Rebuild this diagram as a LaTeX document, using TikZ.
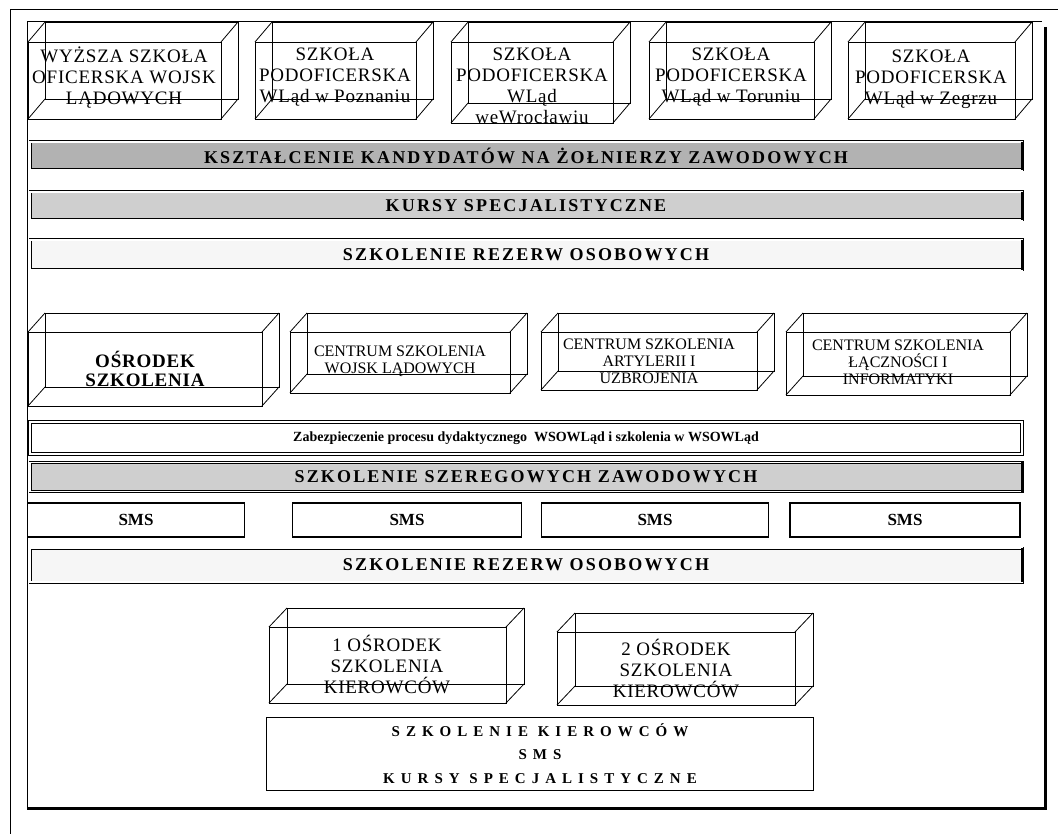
\documentclass[tikz,border=0pt]{standalone}
\usepackage{fontspec}
\setmainfont{Liberation Serif}
\begin{document}
\begin{tikzpicture}[x=1pt,y=-1pt,
  boxline/.style={draw=black,line width=0.8pt},
  boxtext/.style={align=center,inner sep=0pt,font=\fontsize{19}{21}\selectfont\addfontfeature{LetterSpace=4}},
  midtext/.style={align=center,inner sep=0pt,font=\fontsize{16}{17}\selectfont},
  band/.style={draw=black,line width=0.9pt,double=white,double distance=1.2pt,minimum width=992pt,inner sep=0pt,
     font=\bfseries\fontsize{18}{20}\selectfont\addfontfeature{LetterSpace=12}},
  smsbox/.style={draw=black,line width=1.1pt,minimum width=217pt,minimum height=34pt,inner sep=0pt,
     font=\bfseries\fontsize{17}{18}\selectfont},
  frameline/.style={draw=black,line width=1pt},
  thickline/.style={draw=black,line width=3pt}]
\useasboundingbox (0,0) rectangle (1058,834);
\fill[white] (0,0) rectangle (1058,834);
\newcommand\wirebox[6]{%
  \draw[boxline] (#1,#2) rectangle (#3,#4);
  \draw[boxline] (#1+#5,#2-#6) rectangle (#3+#5,#4-#6);
  \draw[boxline] (#1,#2) -- ++(#5,-#6) (#3,#2) -- ++(#5,-#6)
                 (#1,#4) -- ++(#5,-#6) (#3,#4) -- ++(#5,-#6);}
% frames
\draw[frameline] (1058,10) -- (10,10) -- (10,834);
\draw[frameline] (1042,22) -- (27,22) -- (27,808);
\draw[thickline] (1045,27) -- (1045,808) -- (27,808);
% top row boxes
\wirebox{28}{42}{221}{119}{17}{20}
\wirebox{255}{42}{416}{119}{17}{20}
\wirebox{451}{42}{613}{123}{17}{20}
\wirebox{649}{42}{814}{119}{17}{20}
\wirebox{848}{42}{1015}{119}{17}{20}
\node[boxtext] (t1) at (124,78) {WYŻSZA SZKOŁA\\OFICERSKA WOJSK\\LĄDOWYCH};
\node[boxtext] (t2) at (335,77) {SZKOŁA\\PODOFICERSKA\\WLąd w Poznaniu};
\node[boxtext] (t3) at (532,86) {SZKOŁA\\PODOFICERSKA\\WLąd\\weWrocławiu};
\node[boxtext] (t4) at (731,77) {SZKOŁA\\PODOFICERSKA\\WLąd w Toruniu};
\node[boxtext] (t5) at (931,79) {SZKOŁA\\PODOFICERSKA\\WLąd w Zegrzu};
% bands
\node[band,fill=gray!60,minimum height=28pt] (b1) at (526,156) {KSZTAŁCENIE KANDYDATÓW NA ŻOŁNIERZY ZAWODOWYCH};
\node[band,fill=gray!38,minimum height=28pt] (b2) at (526,206) {KURSY SPECJALISTYCZNE};
\node[band,fill=gray!7,minimum height=30pt] (b3) at (526,255) {SZKOLENIE REZERW OSOBOWYCH};
\foreach \b in {b1,b2,b3}{\draw[thickline] (\b.north east) -- (\b.south east);}
% middle boxes
\wirebox{28}{332}{262}{406}{17}{19}
\wirebox{290}{332}{510}{393}{17}{19}
\wirebox{541}{332}{757}{390}{17}{19}
\wirebox{786}{332}{1010}{395}{17}{19}
\node[align=center,inner sep=0pt,font=\bfseries\fontsize{19}{19}\selectfont\addfontfeature{LetterSpace=4}] (m1) at (145,369) {OŚRODEK\\SZKOLENIA};
\node[midtext] (m2) at (400,361) {CENTRUM SZKOLENIA\\WOJSK LĄDOWYCH};
\node[midtext] (m3) at (649,361) {CENTRUM SZKOLENIA\\ARTYLERII I\\UZBROJENIA};
\node[midtext] (m4) at (898,362) {CENTRUM SZKOLENIA\\ŁĄCZNOŚCI I\\INFORMATYKI};
% lower bands
\node[band,fill=white,line width=1.3pt,minimum height=32pt,font=\bfseries\fontsize{14}{16}\selectfont] (b4) at (526,438) {Zabezpieczenie procesu dydaktycznego\ \ WSOWLąd i szkolenia w WSOWLąd};
\node[band,fill=gray!38,minimum height=29pt] (b5) at (526,477) {SZKOLENIE SZEREGOWYCH ZAWODOWYCH};
\node[smsbox] (s1) at (136,520) {SMS};
\node[smsbox,minimum width=229pt] (s2) at (407,520) {SMS};
\node[smsbox,minimum width=227pt] (s3) at (655,520) {SMS};
\node[smsbox,minimum width=230pt] (s4) at (905,520) {SMS};
\node[band,fill=gray!7,minimum height=34pt] (b6) at (526,565) {SZKOLENIE REZERW OSOBOWYCH};
\foreach \b in {b5,b6}{\draw[thickline] (\b.north east) -- (\b.south east);}
% bottom boxes
\wirebox{269}{627}{506}{703}{18}{19}
\wirebox{557}{632}{795}{705}{18}{19}
\node[boxtext] (k1) at (387,664) {1 OŚRODEK\\SZKOLENIA\\KIEROWCÓW};
\node[boxtext] (k2) at (676,668) {2 OŚRODEK\\SZKOLENIA\\KIEROWCÓW};
\node[draw=black,line width=1pt,minimum width=547pt,minimum height=73pt,inner sep=0pt,align=center,
  font=\bfseries\fontsize{15}{23.5}\selectfont\addfontfeature{LetterSpace=40}] (kb) at (540,753.5)
  {SZKOLENIE KIEROWCÓW\\SMS\\KURSY SPECJALISTYCZNE};
\end{tikzpicture}
\end{document}
